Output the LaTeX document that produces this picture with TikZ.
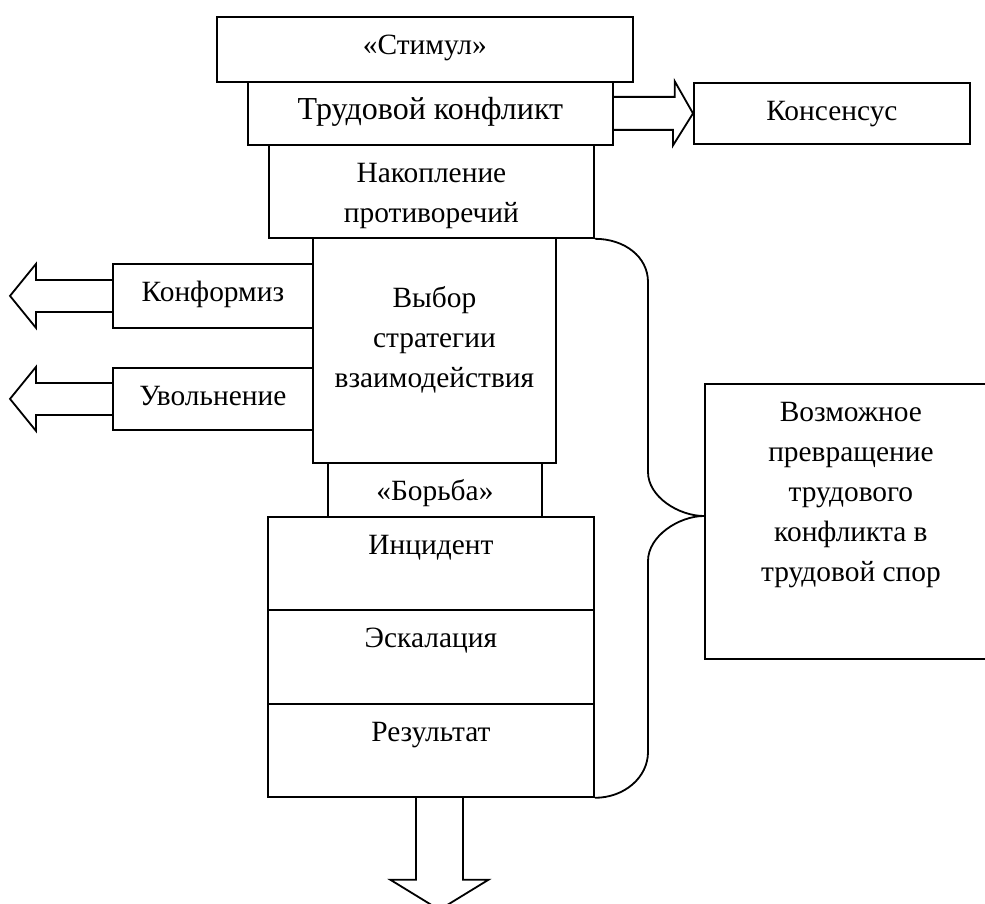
\documentclass[tikz,border=0pt]{standalone}
\usepackage{fontspec}
\setmainfont{Liberation Serif}
\usetikzlibrary{calc}
\tikzstyle{stage}=[draw, line width=1.8pt, inner sep=0pt, anchor=north west]
\tikzstyle{hollow}=[draw, line width=1.8pt, line join=miter]
\newcommand{\boxtxt}[4][38pt]{\parbox[c][#3][t]{#2}{\centering\rule{0pt}{#1}#4}}

\begin{document}
\begin{tikzpicture}[x=1pt, y=-1pt, font=\fontsize{29.4}{40}\selectfont]
        \useasboundingbox (0,0) rectangle (985,904);
        \node[stage] (stim) at (216,16) {\boxtxt{416pt}{65pt}{«Стимул»}};
        \node[stage] (trud) at (247,81) {\boxtxt{365pt}{63pt}{\fontsize{32}{40}\selectfont Трудовой конфликт}};
        \node[stage] (kons) at (693,82) {\boxtxt{276pt}{61pt}{Консенсус}};
        \node[stage] (nakop) at (268,144) {\boxtxt{325pt}{93pt}{Накопление\\противоречий}};
        \node[stage] (vybor) at (312,237) {\boxtxt[70pt]{243pt}{225pt}{Выбор\\стратегии\\взаимодействия}};
        \node[stage] (konf) at (112,263) {\boxtxt{200pt}{64pt}{Конформиз}};
        \node[stage] (uvol) at (112,367) {\boxtxt{200pt}{62pt}{Увольнение}};
        \node[stage] (borba) at (327,462) {\boxtxt{214pt}{54pt}{«Борьба»}};
        \node[stage] (inc) at (267,516) {\boxtxt{326pt}{93pt}{Инцидент}};
        \node[stage] (esk) at (267,609) {\boxtxt{326pt}{94pt}{Эскалация}};
        \node[stage] (res) at (267,703) {\boxtxt{326pt}{93pt}{Результат}};
        \node[stage] (vozm) at (704,383) {\boxtxt{292pt}{275pt}{Возможное\\превращение\\трудового\\конфликта в\\трудовой спор}};
        % block arrows
        \draw[hollow] ($(trud.east)+(0,-16.5)$) -- ++(61,0) -- ++(0,-15.5) -- (kons.west)
            -- ++(-20,32) -- ++(0,-15.5) -- ($(trud.east)+(0,16.5)$);
        \draw[hollow] ($(konf.west)+(0,-16)$) -- ++(-76,0) -- ++(0,-16) -- ($(konf.west)+(-102,0)$)
            -- ++(26,32) -- ++(0,-16) -- ($(konf.west)+(0,16)$);
        \draw[hollow] ($(uvol.west)+(0,-16)$) -- ++(-76,0) -- ++(0,-16) -- ($(uvol.west)+(-102,0)$)
            -- ++(26,32) -- ++(0,-16) -- ($(uvol.west)+(0,16)$);
        \coordinate (dn) at ($(res.south)+(8.5,0)$);
        \draw[hollow] ($(dn)+(-23.5,0)$) -- ++(0,82) -- ++(-25.5,0) -- ($(dn)+(0,112)$)
            -- ++(49,-30) -- ++(-25.5,0) -- ($(dn)+(23.5,0)$);
        % brace
        \coordinate (tip) at (vozm.west |- inc.north);
        \draw[line width=1.8pt] (nakop.south east) .. controls +(30,0) and (648,257) .. (648,282)
            -- (648,472) .. controls (648,497) and ($(tip)+(-25,0)$) .. (tip)
            .. controls ($(tip)+(-25,0)$) and (648,536) .. (648,561)
            -- (648,752) .. controls (648,777) and ($(res.south east)+(30,0)$) .. (res.south east);
\end{tikzpicture}
\end{document}
